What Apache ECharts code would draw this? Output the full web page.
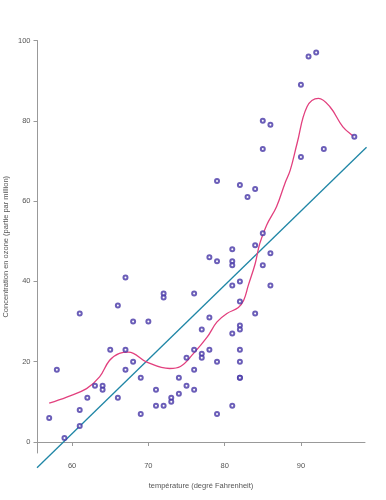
<!DOCTYPE html>
<html>
<head>
<meta charset="utf-8">
<script src="https://cdn.jsdelivr.net/npm/echarts@6/dist/echarts.min.js"></script>
<style>html,body{margin:0;padding:0;background:#fff}#c{width:386px;height:500px}</style>
</head>
<body>
<div id="c"></div>
<script>
// Scatter data: temperature (°F) and ozone concentration
var temp = [67,66,61,58,57,59,61,61,62,63,64,64,65,66,67,67,68,70,72,72,76,82,84,78,77,82,82,81,76,78,82,77,77,75,68,79,82,76,69,74,82,82,71,75,76,74,73,73,71,72,81,69,79,79,82,84,83,85,84,81,86,78,79,81,81,85,82,81,86,92,91,90,85,86,85,93,90,97];
var ozone = [41,34,32,18,6,1,8,4,11,14,14,13,23,11,23,18,30,30,37,36,37,35,32,31,28,29,28,27,23,23,23,22,21,21,20,20,20,18,16,16,16,16,13,14,13,12,11,10,9,9,9,7,7,65,64,63,61,52,49,48,47,46,45,45,44,44,40,39,39,97,96,89,80,79,73,73,71,76];
// Smoothed (lowess) curve
var smoothX = [57.0,59.3,61.9,63.6,64.9,66.2,67.4,69.8,72.8,74.2,75.9,77.7,79.0,80.3,81.8,82.5,83.1,84.0,84.6,85.5,86.8,87.9,88.6,89.5,90.8,92.3,93.8,95.5,97.0];
var smoothY = [9.7,11.2,13.3,16.2,20.3,22.1,22.4,19.9,18.3,18.8,22.0,26.1,29.9,32.0,33.5,35.3,39.0,44.4,49.4,54.0,58.6,64.4,67.7,74.4,83.5,85.6,83.5,78.5,76.0];
// Regression line endpoints
var regX = [55.4, 98.6];
var regY = [-6.4, 73.4];
// Axis ticks
var xTicks = [60,70,80,90];
var yTicks = [0,20,40,60,80,100];

var chart = echarts.init(document.getElementById('c'), null, {renderer:'canvas'});
var pts = temp.map(function(t,i){return [t, ozone[i]];});
var sm = smoothX.map(function(x,i){return [x, smoothY[i]];});
var rg = regX.map(function(x,i){return [x, regY[i]];});
var txt = {color:'#555', fontFamily:'Liberation Sans, Arial, sans-serif', fontSize:7.5};
chart.setOption({
  animation:false,
  backgroundColor:'#fff',
  grid:{left:37, right:21, top:40.5, bottom:47, containLabel:false, outerBoundsMode:'none'},
  xAxis:{
    type:'value', min:55.4, max:98.4,
    name:'température (degré Fahrenheit)', nameLocation:'middle', nameGap:29, nameMoveOverlap:false,
    nameTextStyle:txt,
    splitLine:{show:false},
    axisLine:{show:true, lineStyle:{color:'#999', width:1}},
    axisTick:{show:true, length:4, lineStyle:{color:'#999'}, customValues:xTicks},
    axisLabel:Object.assign({margin:9, customValues:xTicks, showMinLabel:true, showMaxLabel:true}, txt)
  },
  yAxis:{
    type:'value', min:-2.74, max:100,
    name:'Concentration en ozone (partie par million)', nameLocation:'middle', nameGap:27, nameMoveOverlap:false,
    nameTextStyle:txt,
    splitLine:{show:false},
    axisLine:{show:true, lineStyle:{color:'#999', width:1}},
    axisTick:{show:true, length:3.5, lineStyle:{color:'#999'}, customValues:yTicks},
    axisLabel:Object.assign({margin:6.5, customValues:yTicks}, txt)
  },
  series:[
    {type:'line', data:rg, clip:false, symbol:'none', lineStyle:{color:'#1f86a6', width:1.3}, z:2},
    {type:'line', data:sm, smooth:0.4, symbol:'none', lineStyle:{color:'#e2407e', width:1.3}, z:3},
    {type:'scatter', data:pts, symbol:'emptyCircle', symbolSize:4,
     itemStyle:{color:'#4636a6', borderWidth:1.2}, z:4}
  ]
});
</script>
</body>
</html>
